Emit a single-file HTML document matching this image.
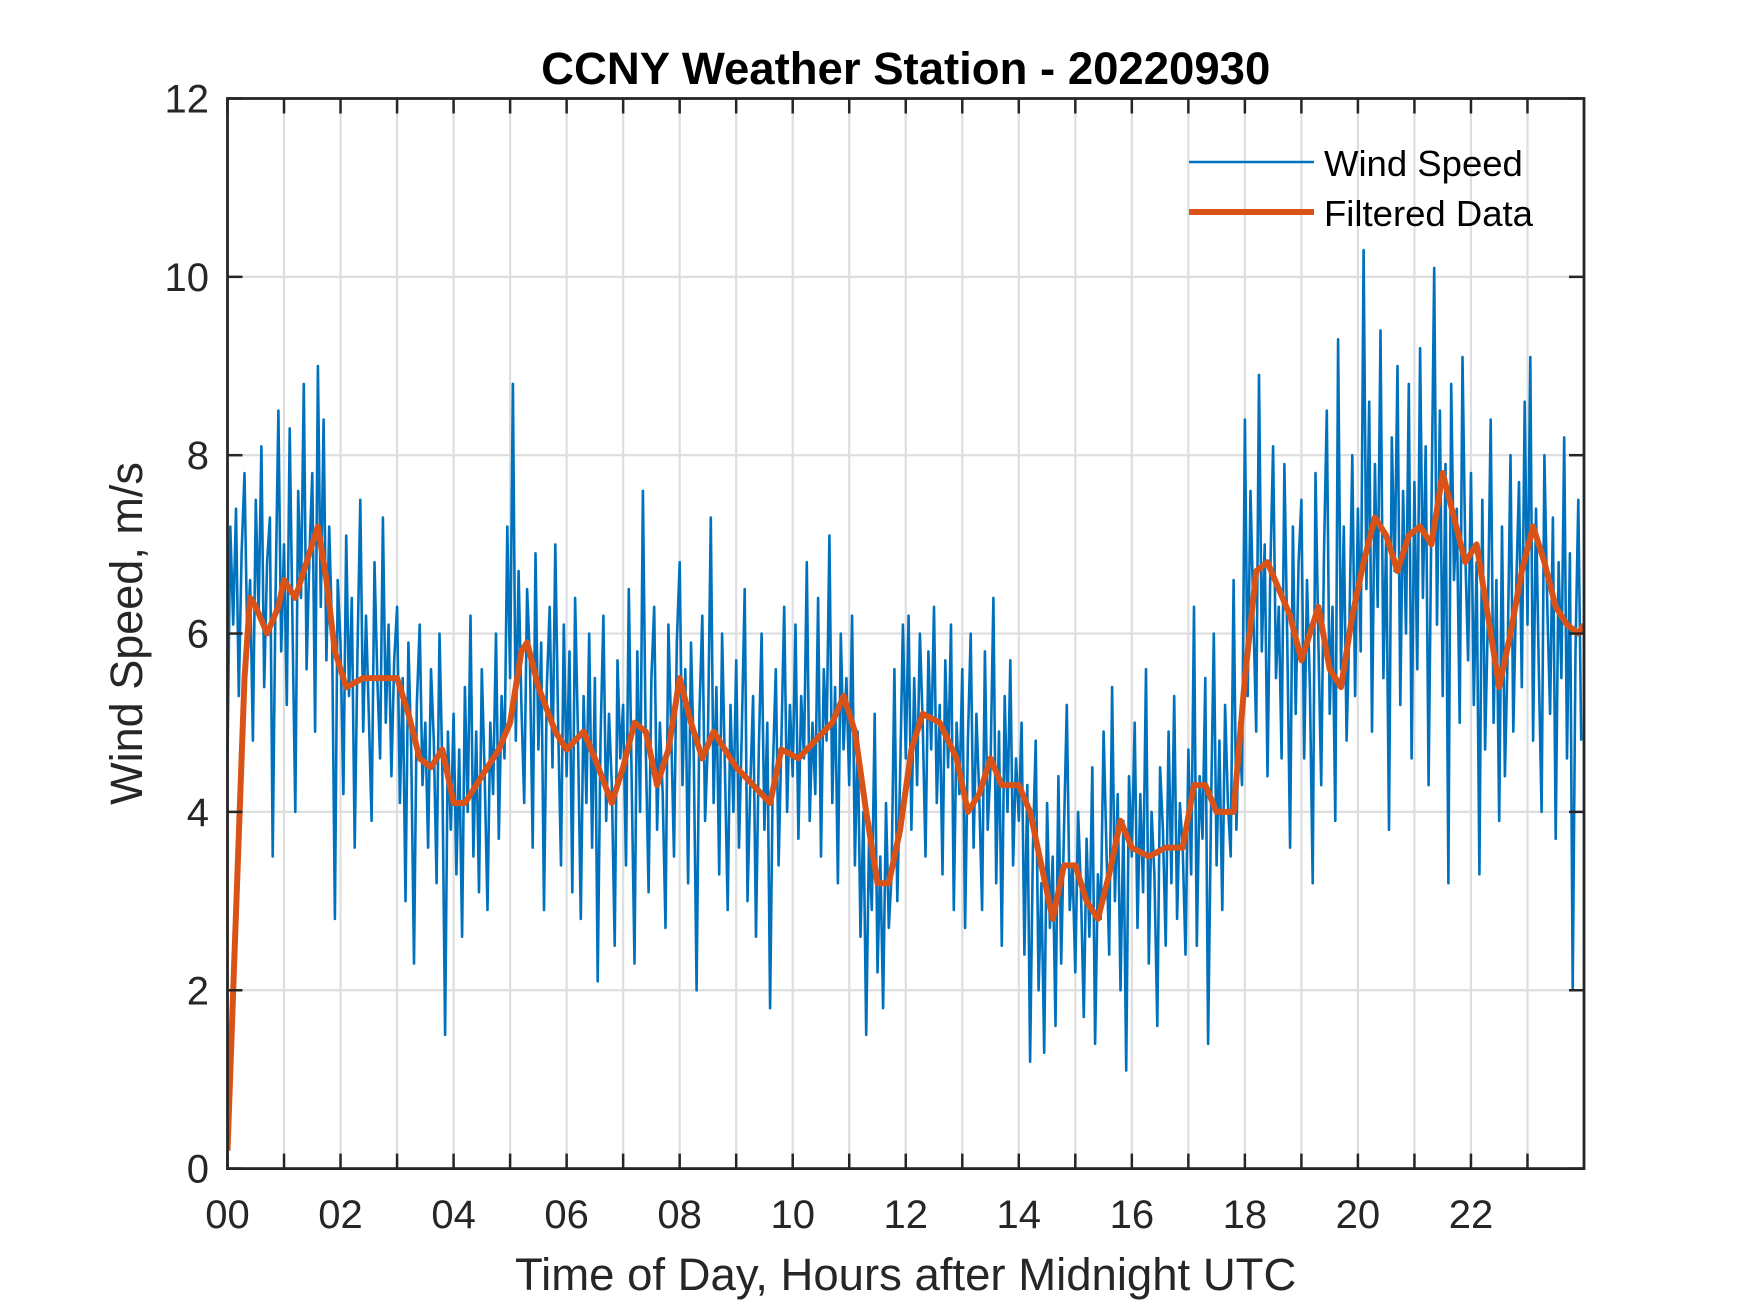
<!DOCTYPE html>
<html><head><meta charset="utf-8"><style>
html,body{margin:0;padding:0;background:#fff;}
svg{display:block;font-family:"Liberation Sans",Arial,sans-serif;}
</style></head><body>
<svg id="chart" width="1750" height="1313" viewBox="0 0 1750 1313" xmlns="http://www.w3.org/2000/svg">
<rect width="1750" height="1313" fill="#fff"/>
<defs><clipPath id="clip"><rect x="227.5" y="98.5" width="1356.5" height="1070"/></clipPath></defs>
<g id="grid"></g>
<g id="series" clip-path="url(#clip)"></g>
<g id="axes"></g>
<text x="905.7" y="84" text-anchor="middle" font-size="45.5" font-weight="bold" fill="#000">CCNY Weather Station - 20220930</text>
<text x="905.7" y="1290" text-anchor="middle" font-size="45.5" fill="#262626">Time of Day, Hours after Midnight UTC</text>
<text transform="translate(142,633.5) rotate(-90)" text-anchor="middle" font-size="45" fill="#262626">Wind Speed, m/s</text>
<g>
<line x1="1189" y1="162" x2="1314" y2="162" stroke="#0072BD" stroke-width="2.5"/>
<text x="1324" y="176" font-size="36.5" fill="#000">Wind Speed</text>
<line x1="1189" y1="212" x2="1314" y2="212" stroke="#D95319" stroke-width="6"/>
<text x="1324" y="226" font-size="36.5" fill="#000">Filtered Data</text>
</g>
</svg>
<script>
const xTicks=[0,1,2,3,4,5,6,7,8,9,10,11,12,13,14,15,16,17,18,19,20,21,22,23];
const xTickLabels=["00","","02","","04","","06","","08","","10","","12","","14","","16","","18","","20","","22",""];
const yTicks=[0,2,4,6,8,10,12];
const windStep=0.05;
const windSpeed=[
4.6,7.2,6.1,7.4,5.3,6.9,7.8,5.9,6.6,4.8,7.5,6.2,8.1,5.4,6.8,7.3,3.5,6.4,8.5,5.8,
7.0,5.2,8.3,6.1,4.0,7.6,6.4,8.8,5.6,6.9,7.8,4.9,9.0,6.3,8.4,5.7,7.2,6.0,2.8,6.6,
5.9,4.2,7.1,5.3,6.4,3.6,5.8,7.5,4.9,6.2,5.1,3.9,6.8,5.5,4.6,7.3,5.0,6.1,4.4,5.7,
6.3,4.1,5.5,3.0,5.9,4.7,2.3,5.2,6.1,4.3,5.0,3.6,5.6,4.8,3.2,6.0,4.5,1.5,4.9,3.8,
5.1,3.3,4.7,2.6,5.4,4.0,6.2,3.5,4.9,3.1,5.6,4.4,2.9,5.0,4.2,6.0,3.7,5.3,4.6,7.2,
5.5,8.8,4.8,6.7,5.2,4.1,6.5,5.7,3.6,6.9,4.7,5.9,2.9,5.4,6.3,4.5,7.0,5.0,3.4,6.1,
4.4,5.8,3.1,6.4,4.9,2.8,5.3,4.1,6.0,3.6,5.5,2.1,4.8,6.2,3.9,5.1,4.3,2.5,5.7,4.6,
5.2,3.4,6.5,4.4,2.3,5.8,4.0,7.6,4.7,3.1,5.5,6.3,3.8,5.0,4.2,2.7,6.1,4.9,3.5,5.9,
6.8,4.3,5.6,3.2,5.9,4.6,2.0,5.1,6.2,3.9,4.8,7.3,4.1,5.4,3.3,6.0,4.5,2.9,5.2,4.0,
5.7,3.6,4.9,6.5,3.0,4.3,5.3,2.6,4.7,6.0,3.8,5.0,1.8,4.5,5.6,3.4,4.8,6.3,4.0,5.2,
4.4,6.1,3.7,5.3,4.6,6.8,3.9,5.0,4.2,6.4,3.5,5.6,4.8,7.1,4.1,5.4,3.2,6.0,4.7,5.5,
4.3,6.2,3.4,4.9,2.6,4.0,1.5,3.7,2.9,5.1,2.2,3.5,1.8,4.1,2.7,3.3,5.6,3.0,4.4,6.1,
4.6,6.2,3.8,5.5,4.3,6.0,5.0,3.5,5.8,4.7,6.3,4.1,5.2,3.3,5.7,4.5,6.1,2.9,5.0,4.2,
5.6,2.7,4.8,6.0,3.6,5.1,4.2,2.9,5.8,3.8,4.5,6.4,3.2,4.9,2.5,5.3,4.0,5.7,3.4,4.6,
3.9,5.0,2.4,4.3,1.2,3.6,4.8,2.0,3.2,1.3,4.1,2.7,3.5,1.6,4.4,2.3,3.8,5.2,2.9,3.4,
2.2,4.0,3.1,1.7,3.7,2.6,4.5,1.4,3.3,2.8,4.9,3.6,2.4,5.4,3.0,4.2,2.0,3.9,1.1,4.4,
3.5,5.0,2.7,4.2,3.1,5.6,2.3,4.0,3.3,1.6,4.5,3.8,2.5,4.9,3.2,5.3,2.8,4.1,3.6,2.4,
4.7,3.3,6.3,2.5,4.4,3.7,5.5,1.4,4.0,6.0,3.4,4.8,2.9,5.2,4.1,3.5,6.6,3.8,5.0,4.3,
8.4,5.3,7.6,6.2,4.9,8.9,5.8,7.0,4.4,6.7,8.1,5.5,6.3,4.6,7.9,5.9,3.6,7.2,5.1,6.8,
7.5,4.6,6.6,5.4,3.2,7.8,5.9,4.3,6.9,8.5,5.1,6.3,3.9,9.3,5.6,7.2,4.8,6.1,8.0,5.3,
7.4,5.8,10.3,6.5,8.6,4.9,7.9,6.3,9.4,5.5,7.1,3.8,8.2,6.7,9.0,5.2,7.6,6.0,8.8,4.6,
7.7,5.6,9.2,6.4,8.1,4.3,7.3,10.1,6.1,8.5,5.3,7.9,3.2,8.8,6.6,7.4,5.0,9.1,6.9,5.7,
7.8,5.2,6.8,3.3,7.5,4.7,6.2,8.4,5.0,6.6,3.9,7.2,4.4,5.8,8.0,4.9,6.5,7.7,5.4,8.6,
6.1,9.1,4.8,7.4,5.6,4.0,8.0,6.3,5.1,7.3,3.7,6.8,5.5,8.2,4.6,6.9,2.0,5.8,7.5,4.8];
const filtHours=[0,0.1,0.3,0.4,0.5,0.7,0.9,1.0,1.2,1.4,1.6,1.75,1.9,2.1,2.4,2.7,3.0,3.2,3.4,3.6,3.8,4.0,4.2,4.5,4.8,5.0,5.2,5.3,5.5,5.8,6.0,6.3,6.5,6.8,7.0,7.2,7.4,7.6,7.8,8.0,8.2,8.4,8.6,8.8,9.0,9.3,9.6,9.8,10.1,10.4,10.7,10.9,11.1,11.3,11.5,11.7,11.9,12.1,12.3,12.6,12.9,13.1,13.3,13.5,13.7,14.0,14.2,14.4,14.6,14.8,15.0,15.2,15.4,15.6,15.8,16.0,16.3,16.6,16.9,17.1,17.3,17.5,17.8,18.0,18.2,18.4,18.6,18.8,19.0,19.3,19.5,19.7,19.9,20.1,20.3,20.5,20.7,20.9,21.1,21.3,21.5,21.7,21.9,22.1,22.3,22.5,22.7,22.9,23.1,23.3,23.5,23.7,23.9,24.0];
const filtValues=[0.2,2,5.5,6.4,6.3,6.0,6.3,6.6,6.4,6.8,7.2,6.6,5.8,5.4,5.5,5.5,5.5,5.1,4.6,4.5,4.7,4.1,4.1,4.4,4.7,5.0,5.8,5.9,5.4,4.9,4.7,4.9,4.6,4.1,4.5,5.0,4.9,4.3,4.7,5.5,5.0,4.6,4.9,4.7,4.5,4.3,4.1,4.7,4.6,4.8,5.0,5.3,4.9,4.0,3.2,3.2,3.8,4.7,5.1,5.0,4.6,4.0,4.2,4.6,4.3,4.3,4.0,3.4,2.8,3.4,3.4,3.0,2.8,3.3,3.9,3.6,3.5,3.6,3.6,4.3,4.3,4.0,4.0,5.5,6.7,6.8,6.5,6.2,5.7,6.3,5.6,5.4,6.2,6.8,7.3,7.1,6.7,7.1,7.2,7.0,7.8,7.3,6.8,7.0,6.2,5.4,6.0,6.7,7.2,6.8,6.3,6.1,6.0,6.1];

const NS="http://www.w3.org/2000/svg";
const X0=227.5,X1=1584,Y0=1168.6,Y1=98.5;
const xScale=h=>X0+(h/24)*(X1-X0);
const yScale=v=>Y0-(v/12)*(Y0-Y1);
function mk(tag,attrs,parent){const e=document.createElementNS(NS,tag);for(const k in attrs)e.setAttribute(k,attrs[k]);parent.appendChild(e);return e;}
const grid=document.getElementById('grid'),axes=document.getElementById('axes'),series=document.getElementById('series');
xTicks.forEach((t,i)=>{
  const x=xScale(t);
  if(t>0){const g=mk('line',{x1:x,y1:Y1,x2:x,y2:Y0,stroke:'#dedede','stroke-width':2.2},grid);
  
  }
  const tb=mk('line',{x1:x,y1:Y0,x2:x,y2:Y0-15,stroke:'#262626','stroke-width':2.5},axes);
  
  
  const tt=mk('line',{x1:x,y1:Y1,x2:x,y2:Y1+15,stroke:'#262626','stroke-width':2.5},axes);
  
  
  if(xTickLabels[i]){const l=mk('text',{x:x,y:1228,'text-anchor':'middle','font-size':40,fill:'#262626'},axes);l.textContent=xTickLabels[i];
  
  }
});
yTicks.forEach(v=>{
  const y=yScale(v);
  if(v>0&&v<12){const g=mk('line',{x1:X0,y1:y,x2:X1,y2:y,stroke:'#dedede','stroke-width':2.2},grid);
  
  }
  const t1=mk('line',{x1:X0,y1:y,x2:X0+15,y2:y,stroke:'#262626','stroke-width':2.5},axes);
  
  
  const t2=mk('line',{x1:X1,y1:y,x2:X1-15,y2:y,stroke:'#262626','stroke-width':2.5},axes);
  
  
  const l=mk('text',{x:209,y:y+14,'text-anchor':'end','font-size':40,fill:'#262626'},axes);l.textContent=v;
  
  
});
const box=mk('rect',{x:X0,y:Y1,width:X1-X0,height:Y0-Y1,fill:'none',stroke:'#262626','stroke-width':2.8},axes);


const wp=mk('polyline',{points:windSpeed.map((v,i)=>xScale(i*windStep).toFixed(1)+','+yScale(v).toFixed(1)).join(' '),fill:'none',stroke:'#0072BD','stroke-width':2.6,'stroke-linejoin':'round'},series);


const fp=mk('polyline',{points:filtHours.map((h,i)=>xScale(h).toFixed(1)+','+yScale(filtValues[i]).toFixed(1)).join(' '),fill:'none',stroke:'#D95319','stroke-width':6,'stroke-linejoin':'round'},series);


</script>
</body></html>
